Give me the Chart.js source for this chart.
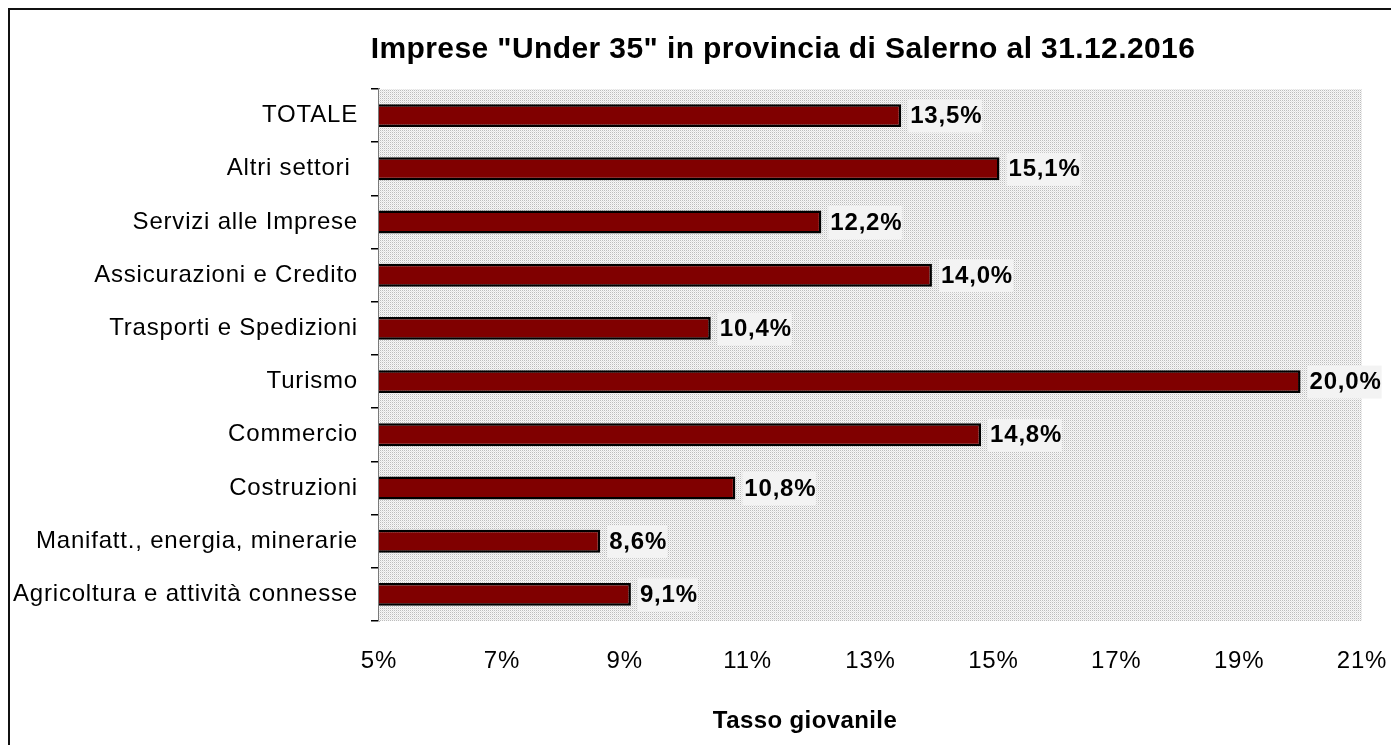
<!DOCTYPE html>
<html>
<head>
<meta charset="utf-8">
<script src="https://cdn.jsdelivr.net/npm/chart.js@4/dist/chart.umd.min.js"></script>
<style>
  html, body { margin: 0; padding: 0; background: #fff; overflow: hidden; }
  #frame {
    position: absolute; left: 8px; top: 8px; width: 1383px; height: 737px;
    border-left: 2px solid #111; border-top: 2px solid #111;
  }
  #wrap { position: absolute; left: 0; top: 0; width: 1381px; height: 735px; }
</style>
</head>
<body>
<div id="frame"><div id="wrap"><canvas id="c"></canvas></div></div>
<script>
const TITLE = 'Imprese "Under 35" in provincia di Salerno al 31.12.2016';
const X_TITLE = "Tasso giovanile";
const categories = [
  "TOTALE",
  "Altri settori ",
  "Servizi alle Imprese",
  "Assicurazioni e Credito",
  "Trasporti e Spedizioni",
  "Turismo",
  "Commercio",
  "Costruzioni",
  "Manifatt., energia, minerarie",
  "Agricoltura e attività connesse",
];
const values = [13.5, 15.1, 12.2, 14.0, 10.4, 20.0, 14.8, 10.8, 8.6, 9.1];
const xMin = 5, xMax = 21, xStep = 2;

const FONT = "'Liberation Sans', Arial, sans-serif";
const SPACING = "0.8px";

// dotted grey fill of the plot area
function dotPattern(ctx) {
  const p = document.createElement("canvas");
  p.width = 2; p.height = 2;
  const g = p.getContext("2d");
  g.fillStyle = "#f7f7f7"; g.fillRect(0, 0, 2, 2);
  g.fillStyle = "#bdbdbd"; g.fillRect(0, 0, 1, 1);
  g.fillStyle = "#e4e4e4"; g.fillRect(1, 1, 1, 1);
  return ctx.createPattern(p, "repeat");
}

// the original text is a bit wider than Liberation Sans, so open it up a little
const spacing = {
  id: "spacing",
  beforeLayout(chart) { chart.ctx.letterSpacing = SPACING; },
  beforeDraw(chart) { chart.ctx.letterSpacing = SPACING; },
};

const plotBg = {
  id: "plotBg",
  beforeDatasetsDraw(chart) {
    const { ctx, chartArea: a } = chart;
    ctx.save();
    ctx.fillStyle = dotPattern(ctx);
    ctx.fillRect(a.left, a.top, a.right - a.left, a.bottom - a.top);
    ctx.restore();
  },
};

const valueLabels = {
  id: "valueLabels",
  afterDatasetsDraw(chart) {
    const { ctx } = chart;
    const meta = chart.getDatasetMeta(0);
    ctx.save();
    ctx.font = "bold 24px " + FONT;
    ctx.textBaseline = "middle";
    meta.data.forEach((bar, i) => {
      const txt = values[i].toFixed(1).replace(".", ",") + "%";
      const w = ctx.measureText(txt).width;
      const x = bar.x + 7;
      ctx.fillStyle = "#f3f3f3";
      ctx.fillRect(x, bar.y - 16, w + 2, 33);
      ctx.fillStyle = "#000";
      ctx.fillText(txt, x + 2, bar.y + 1);
    });
    ctx.restore();
  },
};

const titles = {
  id: "titles",
  afterDraw(chart) {
    const { ctx } = chart;
    ctx.save();
    ctx.fillStyle = "#000";
    ctx.textAlign = "center";
    ctx.textBaseline = "middle";
    ctx.font = "bold 30px " + FONT;
    ctx.letterSpacing = "0.4px";
    ctx.fillText(TITLE, 773, 40);
    ctx.font = "bold 24px " + FONT;
    ctx.fillText(X_TITLE, 795, 711);
    ctx.restore();
  },
};

new Chart(document.getElementById("c").getContext("2d"), {
  type: "bar",
  data: {
    labels: categories,
    datasets: [{
      data: values,
      backgroundColor: "#800000",
      borderColor: "#000",
      borderWidth: 2.5,
      borderSkipped: false,
      categoryPercentage: 1,
      barPercentage: 0.43,
    }],
  },
  options: {
    indexAxis: "y",
    responsive: true,
    maintainAspectRatio: false,
    animation: false,
    layout: { padding: { top: 79, left: 0, right: 29, bottom: 62 } },
    plugins: { legend: { display: false }, tooltip: { enabled: false }, title: { display: false } },
    scales: {
      x: {
        min: xMin, max: xMax,
        afterFit(scale) {
          scale.height = 62;
          scale.paddingLeft = 0;
          scale.paddingRight = 0;
        },
        grid: { display: false },
        border: { display: false },
        ticks: {
          stepSize: xStep,
          padding: 18,
          maxRotation: 0,
          color: "#000",
          font: { family: FONT, size: 24 },
          callback: (v) => v + "%",
        },
      },
      y: {
        afterFit(scale) {
          scale.width = 369;
          scale.paddingTop = 0;
          scale.paddingBottom = 0;
        },
        grid: { drawOnChartArea: false, tickLength: 8, color: "#000", lineWidth: 1.5, offset: true },
        border: { display: true, color: "#7a7a7a", width: 2 },
        ticks: {
          padding: 13,
          color: "#000",
          font: { family: FONT, size: 24 },
        },
      },
    },
  },
  plugins: [spacing, plotBg, valueLabels, titles],
});
</script>
</body>
</html>
